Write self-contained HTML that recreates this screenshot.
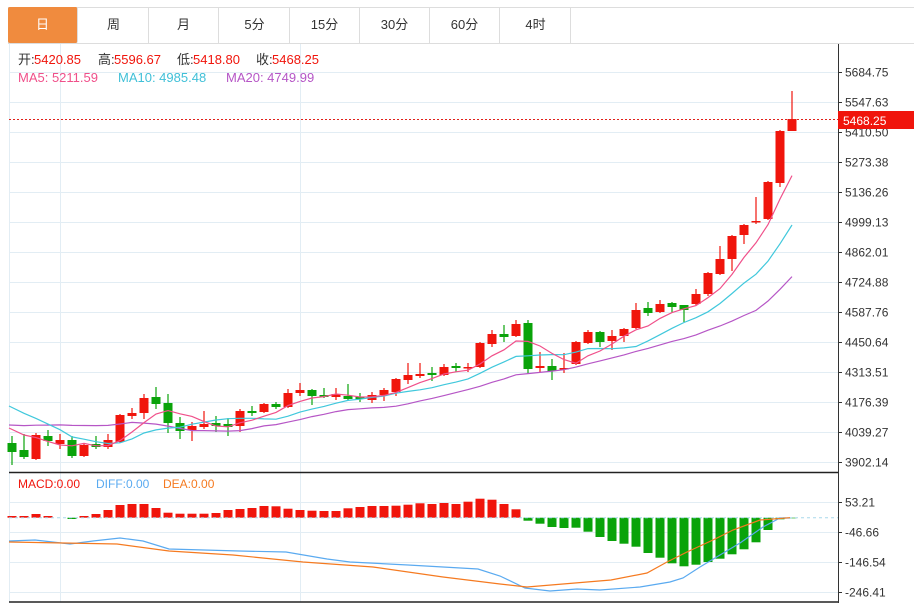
<!DOCTYPE html>
<html><head><meta charset="utf-8">
<style>
body{margin:0;background:#fff;width:914px;height:603px;overflow:hidden;font-family:"Liberation Sans","Noto Sans CJK SC",sans-serif;}
.tab{position:absolute;top:7px;height:36px;width:70px;border-right:1px solid #ddd;text-align:center;line-height:36px;font-size:13px;color:#333;box-sizing:border-box;}
</style></head><body>
<div style="position:absolute;left:8px;top:7px;width:906px;height:37px;border-top:1px solid #ddd;border-bottom:1px solid #ddd;border-left:1px solid #ddd;box-sizing:border-box"></div>
<div class="tab" style="left:8px;background:#f08b3e;color:#fff;border-radius:2px">日</div>
<div class="tab" style="left:79px">周</div>
<div class="tab" style="left:149px">月</div>
<div class="tab" style="left:220px">5分</div>
<div class="tab" style="left:290px">15分</div>
<div class="tab" style="left:360px">30分</div>
<div class="tab" style="left:430px">60分</div>
<div class="tab" style="left:501px">4时</div>
<svg id="s" width="914" height="603" style="position:absolute;left:0;top:0" xmlns="http://www.w3.org/2000/svg"></svg>
<script>
var s=document.getElementById('s'),h='';
function L(x1,y1,x2,y2,c,w,d){h+='<line x1="'+x1+'" y1="'+y1+'" x2="'+x2+'" y2="'+y2+'" stroke="'+c+'" stroke-width="'+(w||1)+'"'+(d?' stroke-dasharray="'+d+'"':'')+'/>';}
function T(x,y,t,c,sz,a){h+='<text x="'+x+'" y="'+y+'" fill="'+c+'" font-size="'+(sz||12)+'"'+(a?' text-anchor="'+a+'"':'')+' font-family="Liberation Sans, Noto Sans CJK SC, sans-serif">'+t+'</text>';}
// grid
var pl=['5684.75','5547.63','5410.50','5273.38','5136.26','4999.13','4862.01','4724.88','4587.76','4450.64','4313.51','4176.39','4039.27','3902.14'];
for(var i=0;i<14;i++){var y=72.5+i*30;L(9,y,838,y,'#e2edf4');L(838,y,842,y,'#333');T(845,y+4,pl[i],'#333',12);}
var ml=[['53.21',502.5],['-46.66',532.5],['-146.54',562.5],['-246.41',592.5]];
ml.forEach(function(m){L(9,m[1],838,m[1],'#e2edf4');L(838,m[1],842,m[1],'#333');T(845,m[1]+4,m[0],'#333',12);});
L(60.5,44,60.5,602,'#e2edf4');L(300.5,44,300.5,602,'#e2edf4');L(9.5,44,9.5,602,'#e2edf4');
L(9,472.5,838,472.5,'#222',1.5);L(9,602,838,602,'#222',1.5);L(838.5,44,838.5,603,'#333');
// candles: [o,c,h,l] in y
var C=[[443,452,436,465],[450,457,434,459],[459,435,433,460],[436,441,430,446],[444,440,434,449],[440,456,436,458],[456,445,444,457],[444,447,436,449],[447,440,434,449],[442,415,414,443],[416,413,408,419],[413,398,394,419],[397,404,387,409],[403,423,394,433],[423,431,417,439],[430,426,422,441],[427,424,411,429],[423,426,416,432],[424,427,418,436],[426,411,409,432],[411,413,406,416],[412,404,403,413],[404,407,402,409],[407,393,389,408],[393,390,383,396],[390,396,389,405],[395,397,388,398],[397,394,388,400],[396,399,384,400],[397,399,393,402],[400,395,392,403],[395,390,388,401],[392,379,378,396],[380,375,363,384],[376,374,363,378],[373,375,367,381],[375,367,364,376],[366,368,363,372],[368,367,363,372],[367,343,342,368],[344,334,330,347],[334,337,325,342],[336,324,320,337],[323,369,320,374],[368,366,352,372],[366,371,359,380],[369,368,353,373],[364,342,341,365],[343,332,330,344],[332,342,331,347],[341,336,330,350],[336,329,328,342],[328,310,303,329],[308,313,302,316],[312,304,300,313],[303,307,302,313],[305,310,305,322],[304,294,289,305],[294,273,272,296],[274,259,246,275],[259,236,235,271],[235,225,224,244],[222,221,197,224],[219,182,181,220],[183,131,130,187],[131,119,91,131]];
var R='#f0150c',G='#0aa30a';
var X=function(i){return 12+12*i;};
C.forEach(function(c,i){var x=X(i),up=c[1]<=c[0],col=up?R:G;L(x,c[2],x,c[3],col,1.2);var t=Math.min(c[0],c[1]),b=Math.max(c[0],c[1]);if(b-t<1.5){b=t+1.5;}h+='<rect x="'+(x-4.5)+'" y="'+t+'" width="9" height="'+(b-t)+'" fill="'+col+'"/>';});
// MA
var cl=[422,422,422,422];var hist5=[384,384,384,384,384],hist10=[444,444,444,444,444,444,444,444,444,444];
var all=hist10.concat(hist5).concat(cl).concat(C.map(function(c){return c[1];}));
var off=19;
function ma(n,col){var p=[];for(var i=0;i<C.length;i++){var k=off+i,sm=0;for(var j=0;j<n;j++)sm+=all[k-j];p.push(X(i)+','+(sm/n).toFixed(1));}p[0]='9,'+p[0].split(',')[1];h+='<polyline points="'+p.join(' ')+'" fill="none" stroke="'+col+'" stroke-width="1.2"/>';}
ma(20,'#b656c6');ma(10,'#40c8dc');ma(5,'#f0508a');
// last price
L(9,119.5,838,119.5,'#e0201a',1,'2,2');
h+='<rect x="838" y="111" width="76" height="18" fill="#f0150c"/>';T(843,125,'5468.25','#fff',12);
// MACD bars
var M=[516,516,514,516,518,519,516,514,510,505,504,504,508,512.7,513.7,513.7,513.7,513,510,509,508,506,506.3,508.7,510,510.7,511,511,508.3,507,506,506,505.7,504.7,503.3,504,503,504,501.7,498.7,499.7,504,509.3,520.7,523.7,527,528,527.7,531.7,537,541,543.7,546.7,553,557.7,563.3,566.3,564.7,562,558.7,554.3,549.3,542.3,530,519.3,518.3];
var Z=517.7;
M.forEach(function(v,i){if(Math.abs(v-Z)<0.5)return;var x=X(i);var col=v<Z?R:G;h+='<rect x="'+(x-4.5)+'" y="'+Math.min(v,Z)+'" width="9" height="'+Math.abs(v-Z)+'" fill="'+col+'"/>';});
L(9,517.7,838,517.7,'#a8d8ec',1,'3,3');
h+='<polyline fill="none" stroke="#5aaaf0" stroke-width="1.2" points="9,541 35,540 70,544 93,541 120,538 143,541 169,549 239,551 286,552 327,559 350,562 408,565 478,569 500,576 525,588 550,591 577,589 600,590 640,587 670,582 683,578 700,567 720,555 740,543 763,527 780,518 790,518"/>';
h+='<polyline fill="none" stroke="#f57a20" stroke-width="1.2" points="9,542 117,544 169,551 233,555 303,562 373,567 443,577 500,584 527,587 575,583 611,580 647,573 667,562 687,552 713,540 733,530 760,520 790,517.7"/>';
// legends
T(18,64,'开:','#333',13);T(34,64,'5420.85','#f0150c',13);
T(98,64,'高:','#333',13);T(114,64,'5596.67','#f0150c',13);
T(177,64,'低:','#333',13);T(193,64,'5418.80','#f0150c',13);
T(256,64,'收:','#333',13);T(272,64,'5468.25','#f0150c',13);
T(18,82,'MA5: 5211.59','#f0508a',13);T(118,82,'MA10: 4985.48','#40c0d8',13);T(226,82,'MA20: 4749.99','#b656c6',13);
T(18,488,'MACD:0.00','#f0150c',12);T(96,488,'DIFF:0.00','#5aaaf0',12);T(163,488,'DEA:0.00','#f57a20',12);
s.innerHTML=h;
</script>
</body></html>
